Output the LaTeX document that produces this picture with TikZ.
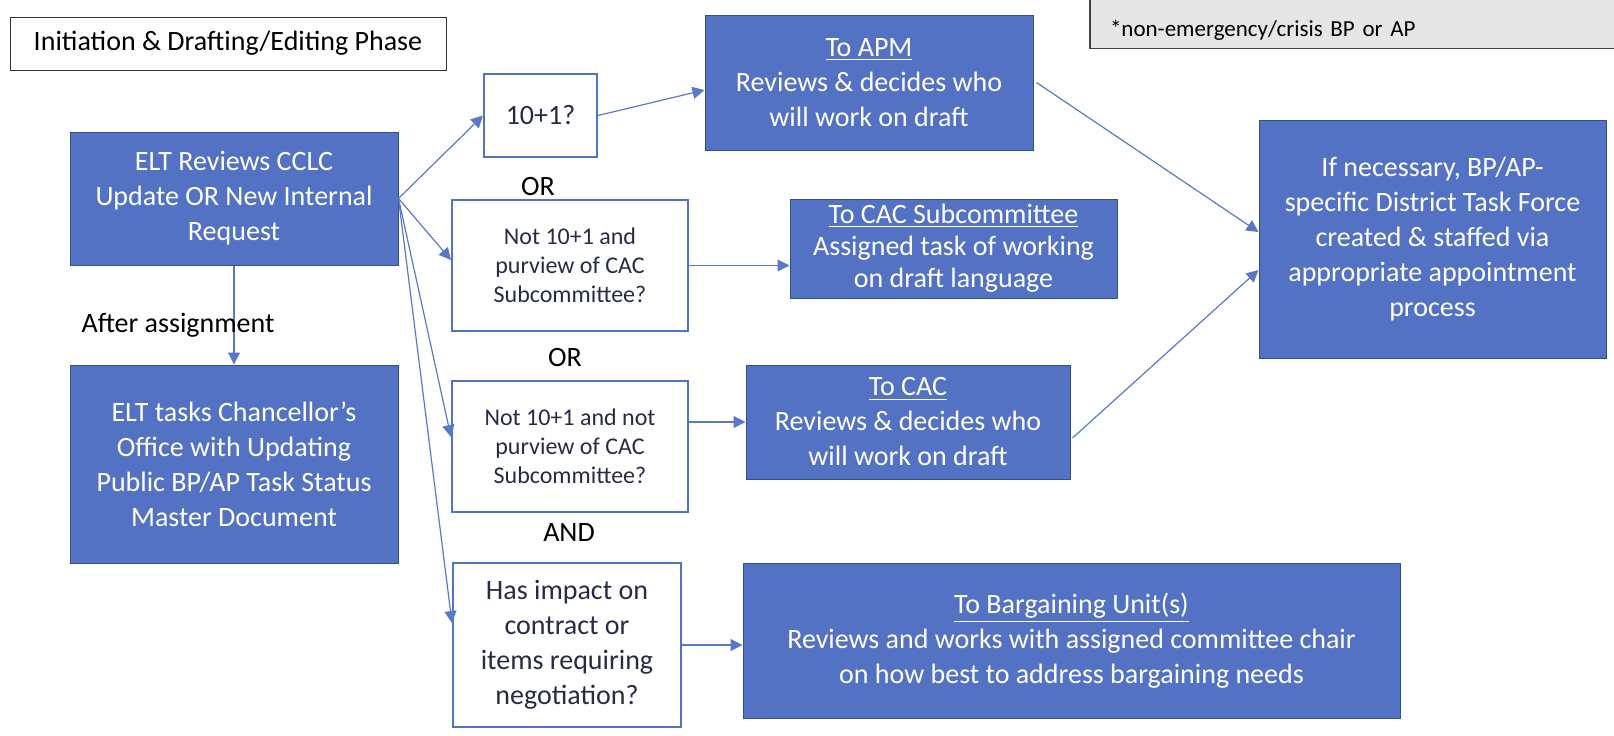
\documentclass[tikz,border=0pt]{standalone}
\usepackage{fontspec}
\setmainfont{Carlito}
\usetikzlibrary{arrows.meta}
\definecolor{boxblue}{RGB}{84,114,196}
\definecolor{edgeblue}{RGB}{47,82,143}
\definecolor{lineblue}{RGB}{90,120,200}
\definecolor{navytext}{RGB}{38,44,70}
\definecolor{notegray}{RGB}{231,230,230}
\begin{document}
\begin{tikzpicture}[x=0.5pt,y=-0.5pt,
  font=\fontsize{14}{17.5}\selectfont,
  >={Triangle[length=6pt,width=6pt]},
  bluebox/.style={draw=edgeblue, line width=0.5pt, fill=boxblue, text=white, align=center, inner sep=1pt},
  ask/.style={draw=boxblue, line width=1pt, fill=white, text=navytext, align=center, inner sep=1pt},
  link/.style={draw=lineblue, line width=0.6pt, ->}]
\useasboundingbox (0,0) rectangle (1614,735);
\node[draw=black!80, line width=0.5pt, minimum width=218pt, minimum height=26.5pt] (0) at (228,43.5) {Initiation \& Drafting/Editing Phase};
\node[draw=black!75, fill=notegray, line width=0.6pt, anchor=south, minimum width=265pt, text width=245pt, inner xsep=10pt, inner ysep=3pt, text height=18pt, text depth=3pt, align=left, font=\fontsize{11.5}{14}\selectfont] (12) at (1355,49) {*non-emergency/crisis BP or AP};
\node[bluebox, minimum width=164pt, minimum height=66.5pt] (1) at (234,198.5) {ELT Reviews CCLC\\Update OR New Internal\\Request};
\node[bluebox, minimum width=164pt, minimum height=99pt] (2) at (234,464) {ELT tasks Chancellor’s\\Office with Updating\\Public BP/AP Task Status\\Master Document};
\node[ask, minimum width=56.5pt, minimum height=41.5pt] (3) at (540.5,115.5) {10+1?};
\node[ask, font=\fontsize{12}{14.5}\selectfont, minimum width=118pt, minimum height=65.5pt] (4) at (570,265.5) {Not 10+1 and\\purview of CAC\\Subcommittee?};
\node[ask, font=\fontsize{12}{14.5}\selectfont, minimum width=118pt, minimum height=65.5pt] (5) at (570,446.5) {Not 10+1 and not\\purview of CAC\\Subcommittee?};
\node[ask, minimum width=114pt, minimum height=82pt] (6) at (567,645) {Has impact on\\contract or\\items requiring\\negotiation?};
\node[bluebox, minimum width=164pt, minimum height=67.5pt] (7) at (869,82.5) {\underline{To APM}\\Reviews \& decides who\\will work on draft};
\node[bluebox, font=\fontsize{14}{16}\selectfont, minimum width=163.5pt, minimum height=49.5pt] (8) at (953.5,248.5) {\underline{To CAC Subcommittee}\\Assigned task of working\\on draft language};
\node[bluebox, minimum width=162pt, minimum height=57pt] (9) at (908,422) {\underline{To CAC}\\Reviews \& decides who\\will work on draft};
\node[bluebox, minimum width=328.5pt, minimum height=77.5pt] (10) at (1071.5,640.5) {\underline{To Bargaining Unit(s)}\\Reviews and works with assigned committee chair\\on how best to address bargaining needs};
\node[bluebox, minimum width=173.5pt, minimum height=119pt] (11) at (1432.5,239) {If necessary, BP/AP-\\specific District Task Force\\created \& staffed via\\appropriate appointment\\process};
\path[link] (1.south) -- (1.south |- 2.north);
\path[link] (1.east) -- (3.west);
\path[link] (1.east) -- ([yshift=2.75pt]4.west);
\path[link] (1.east) -- ([yshift=4.75pt]5.west);
\path[link] (1.east) -- ([yshift=11pt]6.west);
\path[link] (3.east) -- ([yshift=-3.75pt]7.west);
\path[link] (4.east) -- (4.east -| 8.west);
\path[link] (5.east |- 9.west) -- (9.west);
\path[link] (6.east) -- (6.east -| 10.west);
\path[link] ([xshift=1.5pt]7.east) -- ([yshift=3.5pt]11.west);
\path[link] ([xshift=1pt,yshift=-8pt]9.east) -- ([yshift=-15.5pt]11.west);
\node (13) at (178,325) {After assignment};
\node (14) at (538,187) {OR};
\node (15) at (565,358) {OR};
\node (16) at (569,533) {AND};
\end{tikzpicture}
\end{document}
